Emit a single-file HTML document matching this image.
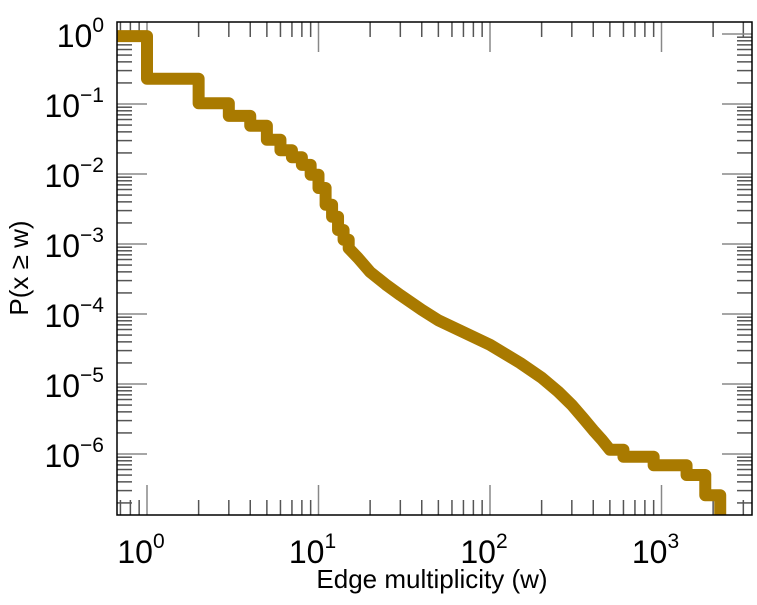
<!DOCTYPE html>
<html><head><meta charset="utf-8"><style>
body{margin:0;background:#fff;}
svg text{font-family:"Liberation Sans",sans-serif;fill:#000;}
</style></head><body>
<svg id="chart" width="757" height="600" xmlns="http://www.w3.org/2000/svg">
<g id="ticks"></g>
<clipPath id="clip"><rect x="117" y="22" width="635" height="493"/></clipPath>
<path id="series" clip-path="url(#clip)" fill="none" stroke="#a97a00" stroke-width="12" stroke-linejoin="round" stroke-linecap="butt"/>
<rect x="117" y="22" width="635" height="493" fill="none" stroke="#000" stroke-width="1.5"/>
<g id="labels"></g>
<text x="432" y="588" font-size="26" text-anchor="middle">Edge multiplicity (w)</text>
<text transform="translate(28,268) rotate(-90)" font-size="26" text-anchor="middle">P(x ≥ w)</text>
</svg>
<script>
const wValues=[0.6,1,2,3,4,5,6,7,8,9,10,11,12,13,14,15,17,20,25,30,40,50,70,100,150,200,250,300,350,400,450,500,600,900,1400,1800,2200];
const logP=[-0.03,-0.64,-0.99,-1.17,-1.31,-1.51,-1.66,-1.76,-1.87,-2.01,-2.2,-2.44,-2.61,-2.8,-2.94,-3.06,-3.2,-3.4,-3.59,-3.73,-3.94,-4.09,-4.26,-4.44,-4.7,-4.91,-5.11,-5.3,-5.49,-5.66,-5.8,-5.94,-6.04,-6.16,-6.3,-6.59,-7.2];
const xDecades=[0,1,2,3];
const yDecades=[0,-1,-2,-3,-4,-5,-6];
const smoothFrom=15, smoothTo=500;
const L=117,R=752,T=22,B=515;
const X=w=>147+171.5*Math.log10(w);
const Y=lp=>34+70*(-lp);
const NS="http://www.w3.org/2000/svg";
let d=`M${X(wValues[0])},${Y(logP[0])}`;
for(let i=1;i<wValues.length;i++){
  const smooth=wValues[i-1]>=smoothFrom && wValues[i]<=smoothTo;
  if(smooth) d+=` L${X(wValues[i])},${Y(logP[i])}`;
  else d+=` H${X(wValues[i])} V${Y(logP[i])}`;
}
document.getElementById('series').setAttribute('d',d);
const tg=document.getElementById('ticks'),lg=document.getElementById('labels');
function line(x1,y1,x2,y2,c){const l=document.createElementNS(NS,'line');


l.setAttribute('x1',x1);l.setAttribute('y1',y1);l.setAttribute('x2',x2);l.setAttribute('y2',y2);l.setAttribute('stroke',c);l.setAttribute('stroke-width','1.5');tg.appendChild(l);}
function label(x,y,e,anchor){const t=document.createElementNS(NS,'text');


t.setAttribute('x',x);t.setAttribute('y',y);t.setAttribute('font-size','32');t.setAttribute('text-anchor',anchor);
t.innerHTML=`10<tspan font-size="21" dy="-15">${e<0?'−'+(-e):e}</tspan>`;lg.appendChild(t);}
for(let dec=-1;dec<=3;dec++){for(let m=1;m<10;m++){const x=X(m*Math.pow(10,dec));if(x<L||x>R)continue;
const len=m==1?30:15;const c=m==1?'#888':'#555';line(x,B,x,B-len,c);line(x,T,x,T+len,c);}}
for(let dec=0;dec>=-7;dec--){for(let m=1;m<10;m++){const y=Y(dec+Math.log10(m));if(y<T||y>B)continue;
const len=m==1?30:15;const c=m==1?'#888':'#555';line(L,y,L+len,y,c);line(R,y,R-len,y,c);}}
xDecades.forEach(e=>label(X(Math.pow(10,e))-6,563,e,'middle'));
yDecades.forEach(e=>label(104,Y(e)+13,e,'end'));
</script>
</body></html>
